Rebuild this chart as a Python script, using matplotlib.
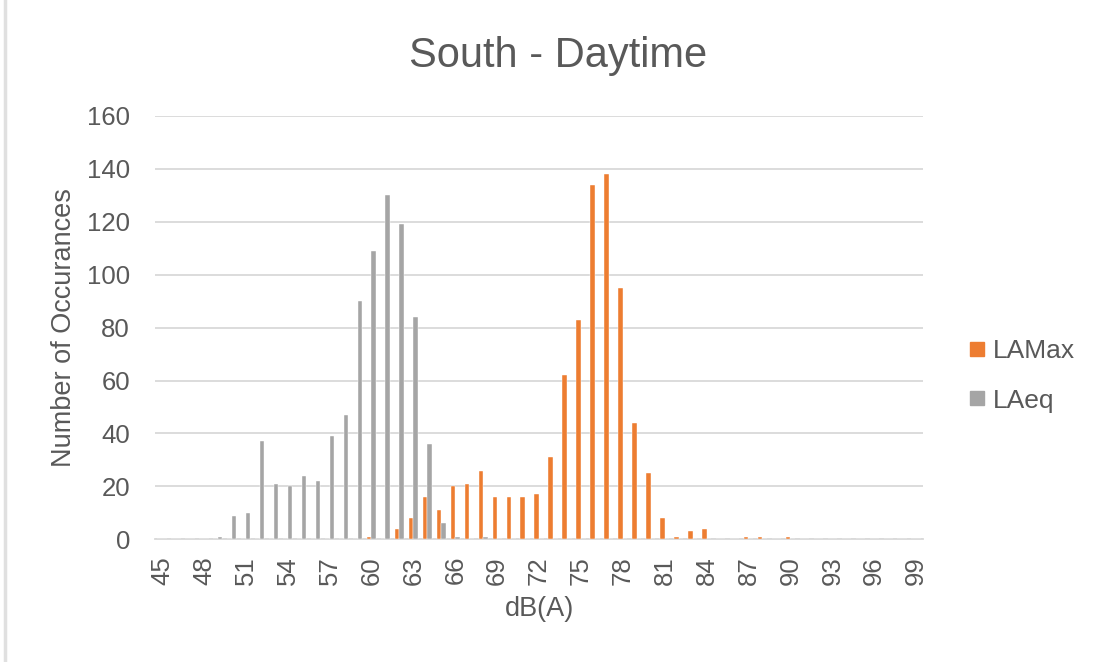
import numpy as np
import matplotlib.pyplot as plt
from matplotlib.lines import Line2D

plt.rcParams["font.family"] = ["Liberation Sans", "DejaVu Sans"]

# sound level bins, 45 to 99 dB(A)
levels = list(range(45, 100))

lamax_counts = {
    60: 1, 62: 4, 63: 8, 64: 16, 65: 11, 66: 20, 67: 21, 68: 26, 69: 16,
    70: 16, 71: 16, 72: 17, 73: 31, 74: 62, 75: 83, 76: 134, 77: 138,
    78: 95, 79: 44, 80: 25, 81: 8, 82: 1, 83: 3, 84: 4, 87: 1, 88: 1, 90: 1,
}
laeq_counts = {
    49: 1, 50: 9, 51: 10, 52: 37, 53: 21, 54: 20, 55: 24, 56: 22, 57: 39,
    58: 47, 59: 90, 60: 109, 61: 130, 62: 119, 63: 84, 64: 36, 65: 6,
    66: 1, 68: 1,
}

lamax = [lamax_counts.get(v, 0) for v in levels]
laeq = [laeq_counts.get(v, 0) for v in levels]

ORANGE = "#ED7D31"
GREY = "#A5A5A5"
TEXT = "#595959"
GRID = "#D9D9D9"

fig = plt.figure(figsize=(11.02, 6.62), dpi=100)
ax = fig.add_axes([0.1407, 0.1853, 0.6969, 0.6395])

x = np.arange(len(levels))
w = 0.33
ax.bar(x - w / 2, lamax, width=w, color=ORANGE, edgecolor="white", linewidth=0.3, zorder=3)
ax.bar(x + w / 2, laeq, width=w, color=GREY, edgecolor="white", linewidth=0.3, zorder=3)

ax.set_xlim(-0.5, len(levels) - 0.5)
ax.set_ylim(0, 160)
ax.set_yticks(range(0, 161, 20))
ax.set_xticks(x[::3])
ax.set_xticklabels([str(v) for v in levels[::3]], rotation=90)

ax.yaxis.grid(True, color=GRID, linewidth=1.3, zorder=0)
ax.set_axisbelow(True)
for side in ["top", "right", "left"]:
    ax.spines[side].set_visible(False)
ax.spines["bottom"].set_color(GRID)
ax.spines["bottom"].set_linewidth(1.3)

ax.tick_params(axis="y", length=0, pad=18, labelsize=18.5, labelcolor=TEXT)
ax.tick_params(axis="x", length=0, pad=12, labelsize=18.5, labelcolor=TEXT)

ax.set_ylabel("Number of Occurances", fontsize=19.5, color=TEXT, labelpad=7)
ax.set_xlabel("dB(A)", fontsize=19.5, color=TEXT, labelpad=8)
fig.text(0.506, 0.915, "South - Daytime", ha="center", va="center", fontsize=30, color=TEXT)

handles = [
    Line2D([], [], marker="s", linestyle="none", markersize=10, color=ORANGE),
    Line2D([], [], marker="s", linestyle="none", markersize=10, color=GREY),
]
fig.legend(handles, ["LAMax", "LAeq"], loc="center left", bbox_to_anchor=(0.853, 0.432),
           frameon=False, fontsize=19, labelcolor=TEXT, handletextpad=0.1,
           labelspacing=0.95, handlelength=1.0)

# chart frame edge on the left
fig.add_artist(Line2D([0.0045, 0.0045], [0, 1], color="#E0E0E0", linewidth=2.5, transform=fig.transFigure))

fig.savefig("out.png", dpi=100, facecolor="white")
